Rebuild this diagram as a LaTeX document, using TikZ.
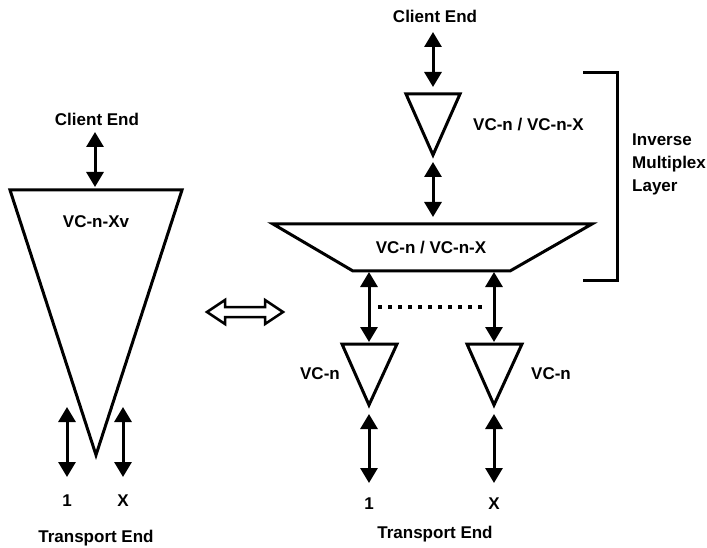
\documentclass[tikz,border=0pt]{standalone}
\usepackage{fontspec}
\setmainfont{Liberation Sans}
\usetikzlibrary{arrows.meta}
\begin{document}
\begin{tikzpicture}[x=1pt,y=-1pt,
  lbl/.style={font=\fontsize{17}{23}\selectfont\bfseries, inner sep=0pt, anchor=base},
  shp/.style={line width=3pt, line join=miter},
  dbl/.style={line width=3pt, {Triangle[width=17pt,length=15pt]}-{Triangle[width=17pt,length=15pt]}},
  brk/.style={line width=3pt},
]
\useasboundingbox[fill=white] (0,0) rectangle (707,548);

% ---------- left side ----------
\node[lbl] (lclient) at (97,126) {Client End};
\coordinate (la1) at (95,132);
\coordinate (la2) at (95,187);
\draw[dbl] (la1) -- (la2);

\coordinate (ltl) at (10,190);
\coordinate (ltr) at (182,190);
\coordinate (lap) at (96,455);
\draw[shp] (ltl) -- (ltr) -- (lap) -- cycle;
\node[lbl] (lvc) at (96,228) {VC-n-Xv};

\coordinate (l1a) at (67,407);
\coordinate (l1b) at (67,477);
\coordinate (lxa) at (123,407);
\coordinate (lxb) at (123,477);
\draw[dbl] (l1a) -- (l1b);
\draw[dbl] (lxa) -- (lxb);
\node[lbl] (l1) at (67,506) {1};
\node[lbl] (lx) at (123,506) {X};
\node[lbl] (ltrans) at (96,542) {Transport End};

% ---------- hollow equivalence arrow ----------
\draw[line width=2.5pt, line join=miter]
  (207,312) -- (225,300) -- (225,307) -- (265,307) -- (265,300) -- (283,312)
  -- (265,324) -- (265,317) -- (225,317) -- (225,324) -- cycle;

% ---------- right side ----------
\node[lbl] (rclient) at (435,23) {Client End};
\coordinate (ra1) at (433,32);
\coordinate (ra2) at (433,87);
\draw[dbl] (ra1) -- (ra2);

\coordinate (stl) at (406,94);
\coordinate (str) at (460,94);
\coordinate (sap) at (433,155);
\draw[shp] (stl) -- (str) -- (sap) -- cycle;
\node[lbl, anchor=base west] (svc) at (473,131) {VC-n / VC-n-X};

\coordinate (rb1) at (433,162);
\coordinate (rb2) at (433,217);
\draw[dbl] (rb1) -- (rb2);

\coordinate (ttl) at (273,224);
\coordinate (ttr) at (592,224);
\coordinate (tbr) at (510,271);
\coordinate (tbl) at (353,271);
\draw[shp] (ttl) -- (ttr) -- (tbr) -- (tbl) -- cycle;
\node[lbl] (tvc) at (431,254) {VC-n / VC-n-X};

\coordinate (c1a) at (369,272);
\coordinate (c1b) at (369,342);
\coordinate (cxa) at (494,272);
\coordinate (cxb) at (494,342);
\draw[dbl] (c1a) -- (c1b);
\draw[dbl] (cxa) -- (cxb);
\coordinate (dl) at (378,307);
\coordinate (dr) at (482,307);
\draw[line width=4pt, dash pattern=on 4pt off 6pt] (dl) -- (dr);

\coordinate (v1l) at (342,344);
\coordinate (v1r) at (397,344);
\coordinate (v1p) at (369,405);
\draw[shp] (v1l) -- (v1r) -- (v1p) -- cycle;
\coordinate (vxl) at (467,344);
\coordinate (vxr) at (522,344);
\coordinate (vxp) at (494,405);
\draw[shp] (vxl) -- (vxr) -- (vxp) -- cycle;
\node[lbl, anchor=base east] (v1lab) at (340,379) {VC-n};
\node[lbl, anchor=base west] (vxlab) at (531,379) {VC-n};

\coordinate (d1a) at (369,414);
\coordinate (d1b) at (369,483);
\coordinate (dxa) at (494,414);
\coordinate (dxb) at (494,483);
\draw[dbl] (d1a) -- (d1b);
\draw[dbl] (dxa) -- (dxb);
\node[lbl] (r1) at (369,509) {1};
\node[lbl] (rx) at (494,509) {X};
\node[lbl] (rtrans) at (435,538) {Transport End};

% ---------- bracket ----------
\coordinate (bk1) at (583,73);
\coordinate (bk2) at (617,73);
\coordinate (bk3) at (617,280);
\coordinate (bk4) at (583,280);
\draw[brk] (bk1) -- (bk2) -- (bk3) -- (bk4);
\node[lbl, anchor=north west, align=left] (inv) at (632,134) {Inverse\\Multiplex\\Layer};
\end{tikzpicture}
\end{document}
